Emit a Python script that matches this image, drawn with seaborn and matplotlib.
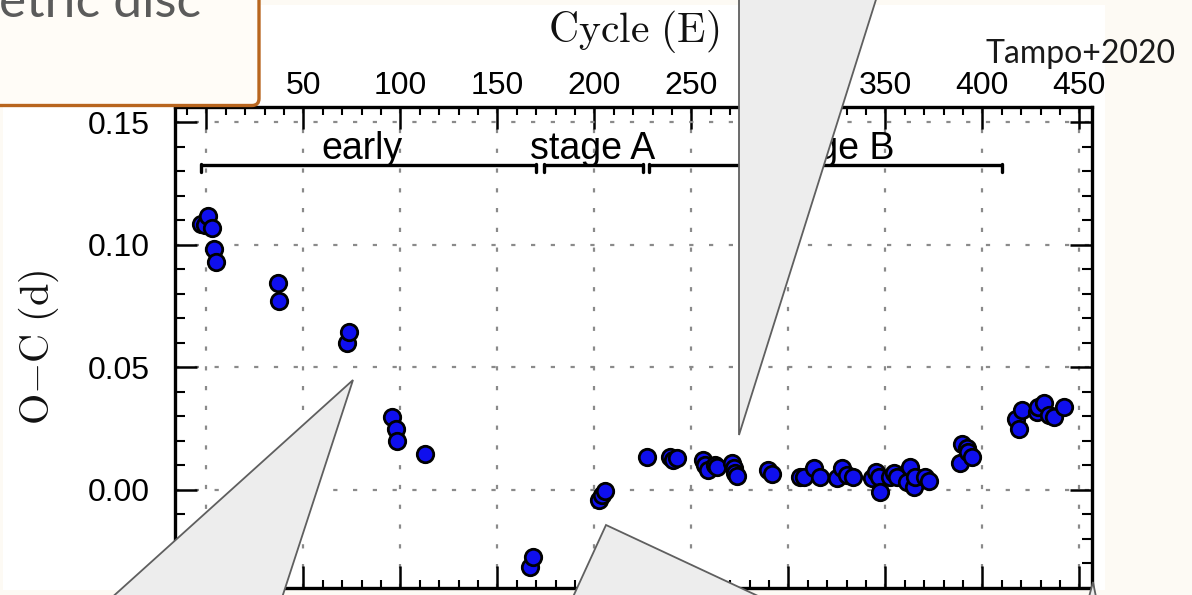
import matplotlib
matplotlib.use("Agg")
import matplotlib.pyplot as plt
import seaborn as sns
from matplotlib.patches import Polygon, FancyBboxPatch, Rectangle
from matplotlib.transforms import IdentityTransform
from matplotlib.ticker import MultipleLocator, FixedLocator, FormatStrFormatter

# ---------------- data ----------------
cycle = [-2.9, -0.5, 1.0, 3.0, 4.1, 4.9,
         36.8, 37.6,
         72.7, 73.7,
         95.7, 97.8, 98.4, 112.7,
         166.9, 168.1,
         202.4, 203.8, 205.5,
         227.0,
         239.0, 240.7, 242.5,
         256.2, 257.1, 258.3, 262.2, 263.4,
         270.8, 271.7, 272.5, 273.4,
         289.7, 291.5,
         306.1,
         307.8, 313.0, 316.4,
         325.0, 327.6, 330.1, 333.5,
         343.0, 345.3, 346.5, 347.3,
         352.5, 354.5, 355.9,
         361.1, 362.8, 364.5, 365.4,
         370.5, 372.7,
         388.5, 389.4, 392.0, 392.8, 394.6,
         417.4, 419.1, 420.4,
         428.1, 428.9, 431.5, 434.1, 437.0, 442.3]
oc = [0.1084, 0.1082, 0.1120, 0.1068, 0.0982, 0.0932,
      0.0844, 0.0771,
      0.0599, 0.0646,
      0.0299, 0.0249, 0.0201, 0.0146,
      -0.0313, -0.0275,
      -0.0041, -0.0020, -0.0004,
      0.0133,
      0.0133, 0.0122, 0.0129,
      0.0122, 0.0102, 0.0082, 0.0102, 0.0093,
      0.0109, 0.0089, 0.0071, 0.0057,
      0.0082, 0.0065,
      0.0054,
      0.0054, 0.0089, 0.0054,
      0.0048, 0.0089, 0.0061, 0.0054,
      0.0048, 0.0075, 0.0054, -0.0007,
      0.0054, 0.0071, 0.0052,
      0.0034, 0.0093, 0.0014, 0.0054,
      0.0054, 0.0038,
      0.0111, 0.0188, 0.0170, 0.0156, 0.0133,
      0.0289, 0.0249, 0.0327,
      0.0320, 0.0338, 0.0356, 0.0306, 0.0297, 0.0338]

x_ticks = [0, 50, 100, 150, 200, 250, 300, 350, 400, 450]
y_ticks = [0.00, 0.05, 0.10, 0.15]
stage_names = ["early", "stage A", "stage B"]
stage_start = [-3, 174, 228]
stage_end = [170, 225, 410]
stage_label_x = [80, 199, 322]
stage_y = 0.1327

W, H = 1192, 595
BEIGE = "#FDFAF4"

sns.set_theme(style="ticks")
plt.rcParams['font.family'] = ['Liberation Sans', 'DejaVu Sans']
plt.rcParams['mathtext.fontset'] = 'cm'

fig = plt.figure(figsize=(W / 100, H / 100), dpi=100, facecolor=BEIGE)
fig.add_artist(Rectangle((3 / W, 1 - 590 / H), (1105 - 3) / W, (590 - 5) / H,
                         transform=fig.transFigure, fc='white', ec='none', zorder=-1))

ax = fig.add_axes([175 / W, 1 - 588 / H, (1092 - 175) / W, (588 - 106.5) / H])
ax.set_facecolor('white')

sns.scatterplot(x=cycle, y=oc, ax=ax, s=140, color='#0F0FEE', edgecolor='black',
                linewidth=2.0, zorder=4, legend=False)

ax.set_xlim(-16.2, 456.5)
ax.set_ylim(-0.040, 0.1565)

for sp in ax.spines.values():
    sp.set_linewidth(2.4)
    sp.set_color('black')
    sp.set_visible(True)

ax.xaxis.set_major_locator(FixedLocator(x_ticks))
ax.xaxis.set_minor_locator(MultipleLocator(10))
ax.yaxis.set_major_locator(FixedLocator(y_ticks))
ax.yaxis.set_minor_locator(MultipleLocator(0.01))
ax.yaxis.set_major_formatter(FormatStrFormatter('%.2f'))

ax.tick_params(axis='x', which='both', direction='in', top=True, bottom=True,
               labeltop=True, labelbottom=False, color='black')
ax.tick_params(axis='x', which='major', length=16, width=1.8, pad=4, labelsize=23)
ax.tick_params(axis='x', which='minor', length=6, width=1.5)
ax.tick_params(axis='y', which='both', direction='in', left=True, right=True,
               labelleft=True, labelright=False, color='black')
ax.tick_params(axis='y', which='major', length=16, width=1.8, pad=18, labelsize=23)
ax.tick_params(axis='y', which='minor', length=7, width=1.5)
for lab in ax.get_xticklabels() + ax.get_yticklabels():
    lab.set_color('black')

ax.grid(True, which='major', color='#8a8a8a', lw=1.6, linestyle=(0, (1.9, 7.0)))

# stage brackets
for name, s, e, lx in zip(stage_names, stage_start, stage_end, stage_label_x):
    ax.plot([s, e], [stage_y, stage_y], color='black', lw=2.4, solid_capstyle='butt', zorder=3)
    for xe in (s, e):
        ax.plot([xe, xe], [stage_y + 0.0004, stage_y - 0.0028], color='black', lw=2.4,
                solid_capstyle='round', zorder=3)
    ax.text(lx, stage_y + 0.0022, name, ha='center', va='baseline', fontsize=27,
            color='black', zorder=3)

ax.set_xlabel(r'$\mathrm{Cycle\ (E)}$', fontsize=30, color='#111111')
ax.xaxis.set_label_position('top')
ax.xaxis.label.set_va('center')
ax.xaxis.set_label_coords(0.500, 1.155)
ax.set_ylabel(r'$\mathrm{O}{-}\mathrm{C}\ (\mathrm{d})$', fontsize=29, color='#111111')
ax.yaxis.label.set_va('center')
ax.yaxis.set_label_coords(-0.149, 0.50)

# ---------------- slide overlays (pixel coords, top-left origin) ----------------
def P(pts):
    return [(x, H - y) for x, y in pts]

idt = IdentityTransform()
callouts = [
    [(739, -10), (739, 435), (879, -10)],
    [(353, 380), (98, 610), (278, 610)],
    [(606, 525), (567, 610), (788, 610)],
    [(1093, 582), (1085, 612), (1099, 612)],
]
for pts in callouts:
    fig.add_artist(Polygon(P(pts), closed=True, transform=idt, fc='#EDEDED',
                           ec='#5f5f5f', lw=1.3, zorder=10))

fig.add_artist(FancyBboxPatch((-20, H - 105.5), 279, 150,
                              boxstyle='round,pad=0,rounding_size=7', transform=idt,
                              fc='#FFFCF7', ec='#B8651E', lw=2.4, zorder=11))
fig.text(-1, H - 17, 'etric disc', transform=idt, fontsize=37, family=['Lato', 'DejaVu Sans'],
         color='#5b5b5b', ha='left', va='baseline', zorder=12)
fig.text(1081, H - 63, 'Tampo+2020', transform=idt, fontsize=23,
         family=['Lato', 'DejaVu Sans'], color='#1a1a1a', ha='center', va='baseline', zorder=12)

fig.savefig('out.png', dpi=100)
